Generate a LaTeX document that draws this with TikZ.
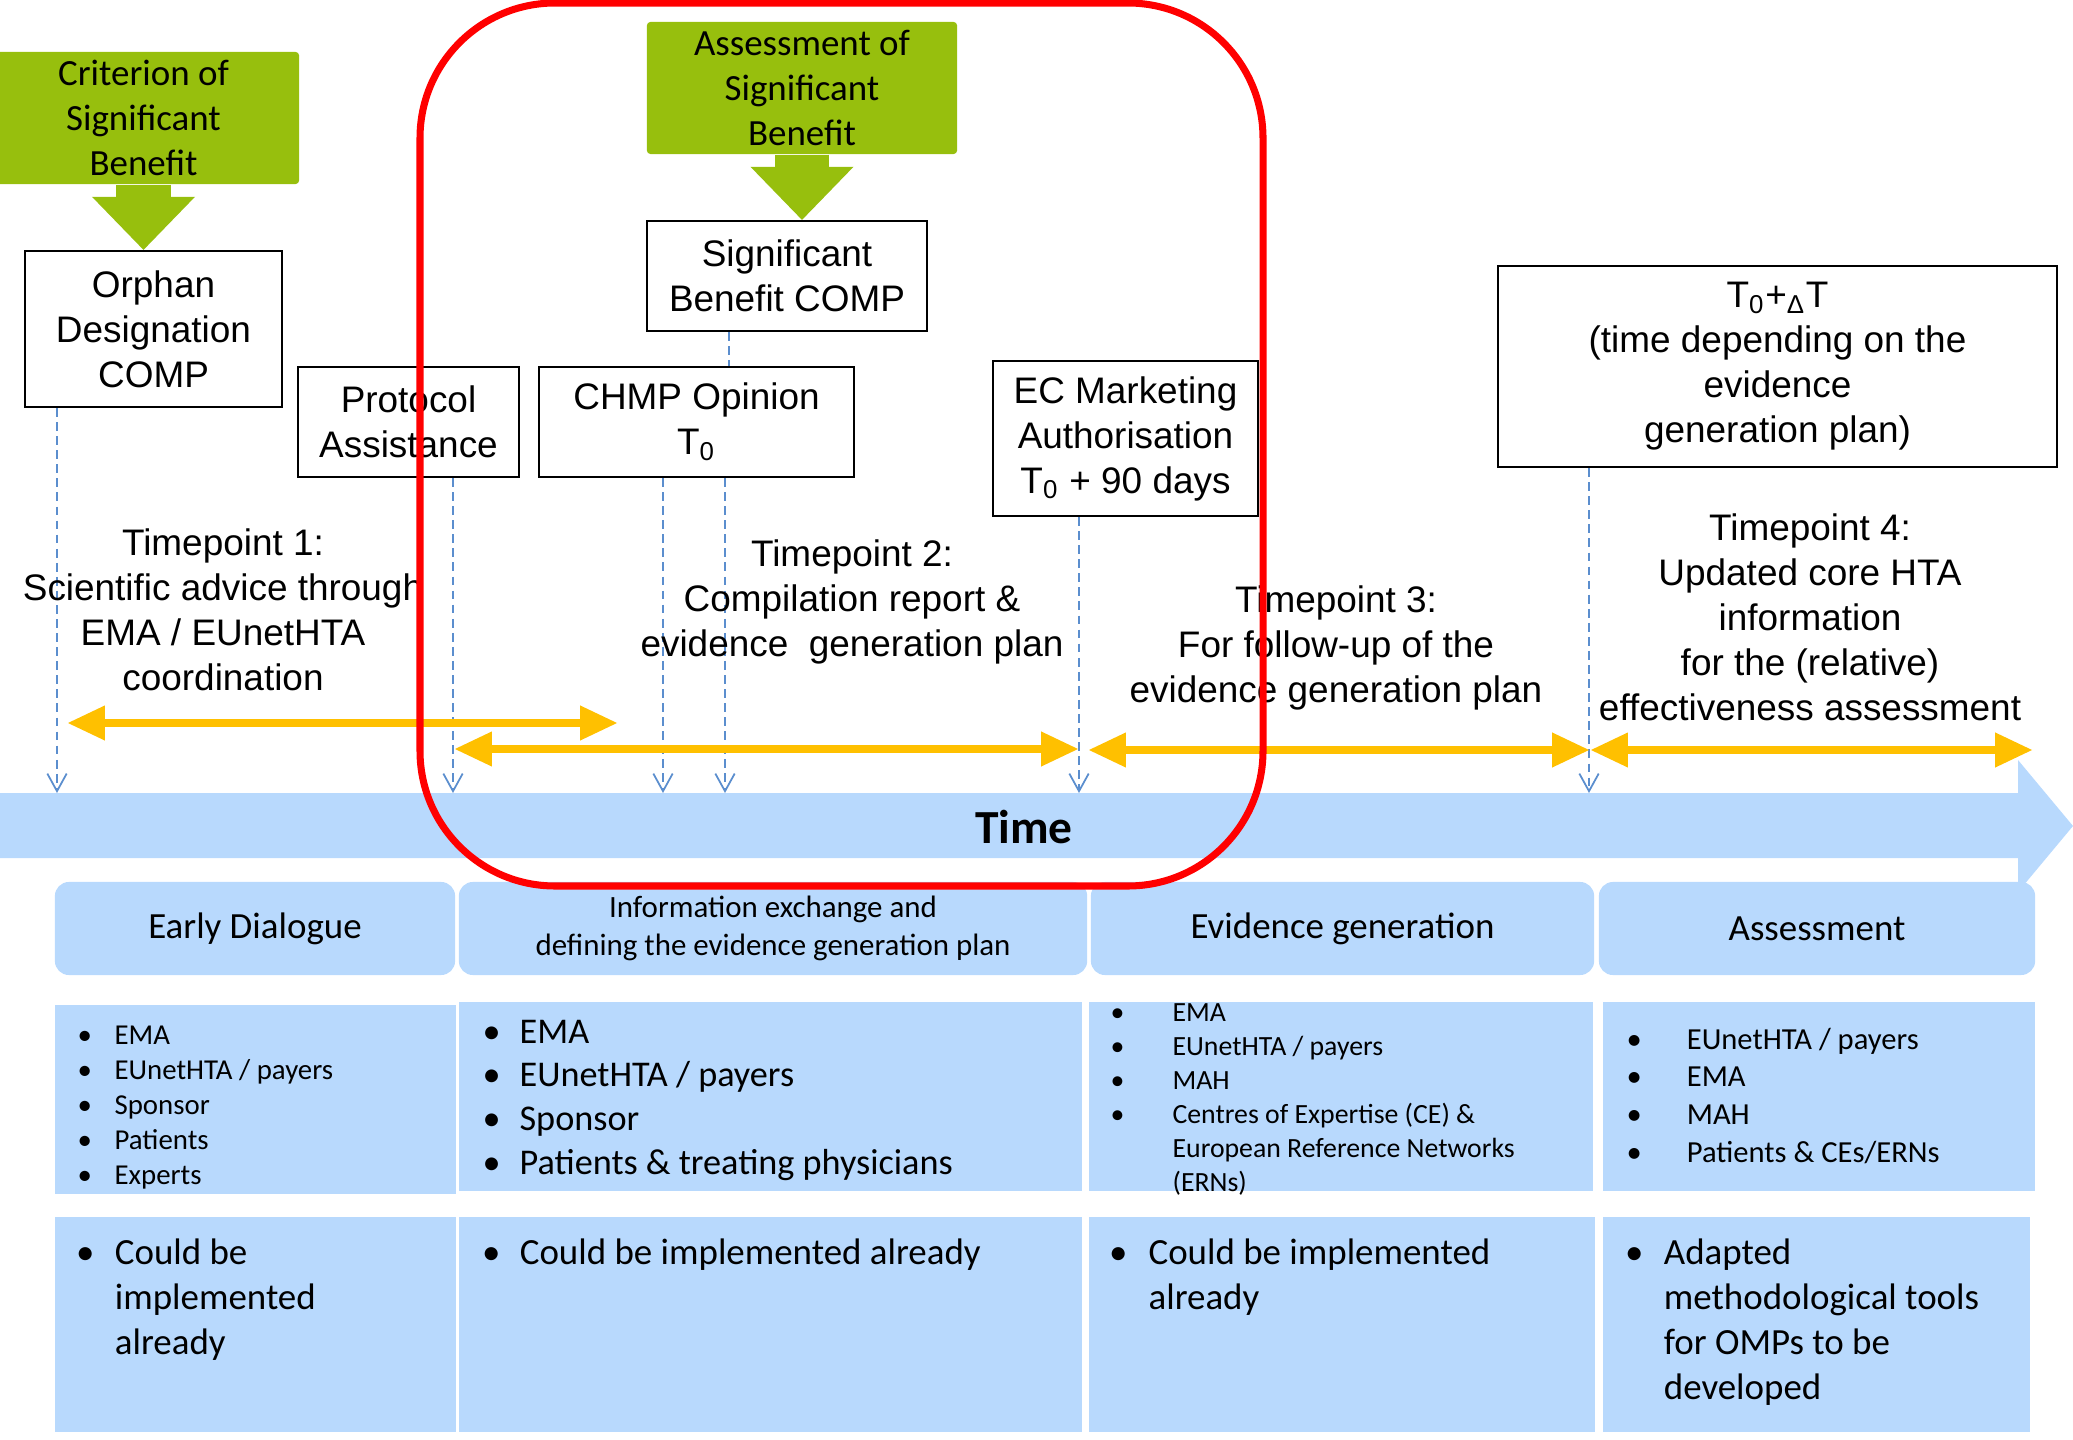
\documentclass[tikz,border=0pt]{standalone}
\usepackage{fontspec}
\setmainfont{Liberation Sans}
\newfontfamily\calibri{Carlito}
\usepackage{tikz}
\usetikzlibrary{arrows.meta}

\definecolor{sbgreen}{RGB}{151,191,13}
\definecolor{spanorange}{RGB}{255,192,0}
\definecolor{timeblue}{RGB}{184,217,253}
\definecolor{tickblue}{RGB}{91,142,206}

\begin{document}
\begin{tikzpicture}[
							x=0.01cm, y=-0.01cm,
							compbox/.style={rectangle, draw=black, fill=white, line width=0.6pt, inner sep=0pt, align=center, font=\fontsize{10.5}{12.8}\selectfont},
							greenbox/.style={rectangle, fill=sbgreen, rounded corners=1pt, inner sep=0pt, align=center, font=\calibri\fontsize{10.5}{12.8}\selectfont},
							greenarrow/.style={draw=sbgreen, line width=15.4pt, -{Triangle[width=29.3pt, length=15.1pt, line width=0pt]}},
							tickline/.style={draw=tickblue, line width=0.5pt, dash pattern=on 2.5pt off 1.5pt, -{Straight Barb[length=5pt, width=5.5pt]}},
							spanarrow/.style={draw=spanorange, line width=2.3pt, {Triangle[width=10pt, length=10.5pt, line width=0pt]}-{Triangle[width=10pt, length=10.5pt, line width=0pt]}},
							phasebox/.style={rectangle, fill=timeblue, rounded corners=4pt, inner sep=0pt, align=center, minimum height=0.93cm, font=\calibri\fontsize{10.5}{12.8}\selectfont},
							panelbox/.style={rectangle, fill=timeblue, inner sep=0pt},
							tptext/.style={align=center, inner sep=0pt, font=\fontsize{10.5}{12.8}\selectfont},
							listtext/.style={anchor=base west, inner sep=0pt}
						]
						\useasboundingbox (0, 0) rectangle (2073, 1440);
						
						% time axis
						\fill[timeblue] (0, 793) -- (2018, 793) -- (2018, 760) -- (2073, 826) -- (2018, 892) -- (2018, 858) -- (0, 858) -- cycle;
						\node[inner sep=0pt, font=\calibri\bfseries\fontsize{13.5}{16}\selectfont] (nodeTime) at (1024, 827) {Time};
						
						\node[phasebox, minimum width=4.00cm] (phaseEarly) at (255, 928.5) {Early Dialogue};
						\node[phasebox, minimum width=6.28cm, font=\calibri\fontsize{8.8}{10.8}\selectfont] (phaseInfo) at (773, 928.5) {Information exchange and\\defining the evidence generation plan};
						\node[phasebox, minimum width=5.03cm] (phaseEvidence) at (1342.5, 928.5) {Evidence generation};
						\node[phasebox, minimum width=4.36cm] (phaseAssess) at (1817, 928.5) {Assessment};
						
						\node[panelbox, minimum width=4.01cm, minimum height=1.89cm] (panelWhoEarly) at (255.5, 1099.5) {};
						\node[panelbox, minimum width=6.23cm, minimum height=1.89cm] (panelWhoInfo) at (770.5, 1096.5) {};
						\node[panelbox, minimum width=5.04cm, minimum height=1.89cm] (panelWhoEvidence) at (1341, 1096.5) {};
						\node[panelbox, minimum width=4.32cm, minimum height=1.89cm] (panelWhoAssess) at (1819, 1096.5) {};
						\node[panelbox, minimum width=4.01cm, minimum height=2.15cm] (panelNowEarly) at (255.5, 1324.5) {};
						\node[panelbox, minimum width=6.23cm, minimum height=2.15cm] (panelNowInfo) at (770.5, 1324.5) {};
						\node[panelbox, minimum width=5.06cm, minimum height=2.15cm] (panelNowEvidence) at (1342, 1324.5) {};
						\node[panelbox, minimum width=4.27cm, minimum height=2.15cm] (panelNowAssess) at (1816.5, 1324.5) {};
						
						\node[listtext, font=\calibri\fontsize{8.2}{10}\selectfont] (listWhoEarly) at (77, 1044) {\begin{tabular}[t]{@{}p{10.5pt}@{}l@{}}
							\textbullet & EMA\\ \textbullet & EUnetHTA / payers\\ \textbullet & Sponsor\\ \textbullet & Patients\\ \textbullet & Experts
						\end{tabular}};
						\node[listtext, font=\calibri\fontsize{10.3}{12.5}\selectfont] (listWhoInfo) at (482, 1043) {\begin{tabular}[t]{@{}p{10.5pt}@{}l@{}}
							\textbullet & EMA\\ \textbullet & EUnetHTA / payers\\ \textbullet & Sponsor\\ \textbullet & Patients \& treating physicians
						\end{tabular}};
						\node[listtext, font=\calibri\fontsize{7.9}{9.7}\selectfont] (listWhoEvidence) at (1110, 1021) {\begin{tabular}[t]{@{}p{17.6pt}@{}l@{}}
							\textbullet & EMA\\ \textbullet & EUnetHTA / payers\\ \textbullet & MAH\\ \textbullet & Centres of Expertise (CE) \&\\ & European Reference Networks\\ & (ERNs)
						\end{tabular}};
						\node[listtext, font=\calibri\fontsize{8.7}{10.8}\selectfont] (listWhoAssess) at (1626, 1049) {\begin{tabular}[t]{@{}p{17.1pt}@{}l@{}}
							\textbullet & EUnetHTA / payers\\ \textbullet & EMA\\ \textbullet & MAH\\ \textbullet & Patients \& CEs/ERNs
						\end{tabular}};
						
						\node[listtext, font=\calibri\fontsize{10.5}{12.8}\selectfont] (listNowEarly) at (75.5, 1264) {\begin{tabular}[t]{@{}p{11pt}@{}l@{}}
							\textbullet & Could be\\ & implemented\\ & already
						\end{tabular}};
						\node[listtext, font=\calibri\fontsize{10.5}{12.8}\selectfont] (listNowInfo) at (481.5, 1264) {\begin{tabular}[t]{@{}p{10.7pt}@{}l@{}}
							\textbullet & Could be implemented already
						\end{tabular}};
						\node[listtext, font=\calibri\fontsize{10.5}{12.8}\selectfont] (listNowEvidence) at (1108.5, 1264) {\begin{tabular}[t]{@{}p{11.2pt}@{}l@{}}
							\textbullet & Could be implemented\\ & already
						\end{tabular}};
						\node[listtext, font=\calibri\fontsize{10.5}{12.8}\selectfont] (listNowAssess) at (1624.5, 1264) {\begin{tabular}[t]{@{}p{11pt}@{}l@{}}
							\textbullet & Adapted\\ & methodological tools\\ & for OMPs to be\\ & developed
						\end{tabular}};
						
						% milestones
						\node[greenbox, minimum width=3.11cm, minimum height=1.32cm] (nodeCrit) at (143.5, 118) {Criterion of\\Significant\\Benefit};
						\node[greenbox, minimum width=3.10cm, minimum height=1.32cm] (nodeAssessSB) at (802, 88) {Assessment of\\Significant\\Benefit};
						
						\node[compbox, minimum width=2.57cm, minimum height=1.56cm] (nodeOrphan) at (153.5, 329) {Orphan\\Designation\\COMP};
						\node[compbox, minimum width=2.21cm, minimum height=1.10cm] (nodeProtocol) at (408.5, 422) {Protocol\\Assistance};
						\node[compbox, minimum width=3.15cm, minimum height=1.10cm] (nodeChmp) at (696.5, 422) {CHMP Opinion\\T\textsubscript{0}};
						\node[compbox, minimum width=2.80cm, minimum height=1.10cm] (nodeSBComp) at (787, 276) {Significant\\Benefit COMP};
						\node[compbox, minimum width=2.65cm, minimum height=1.55cm] (nodeEC) at (1125.5, 438.5) {EC Marketing\\Authorisation\\T\textsubscript{0} + 90 days};
						\node[compbox, minimum width=5.59cm, minimum height=2.01cm] (nodeHTA) at (1777.5, 366.5) {T\textsubscript{0}+\textsubscript{Δ}T\\(time depending on the\\evidence\\generation plan)};
						
						\draw[greenarrow] (nodeCrit.south) to (nodeCrit.south |- nodeOrphan.north);
						\draw[greenarrow] (nodeAssessSB.south) to (nodeAssessSB.south |- nodeSBComp.north);
						
						\coordinate (tickOrphan) at (57, 793);
						\coordinate (tickProtocol) at (453, 793);
						\coordinate (tickChmpA) at (663, 793);
						\coordinate (tickChmpB) at (725, 793);
						\coordinate (tickEC) at (1079, 793);
						\coordinate (tickHTA) at (1589, 793);
						\coordinate (linkSB) at (729, 350);
						
						\draw[tickline] (nodeOrphan.south -| tickOrphan) to (tickOrphan);
						\draw[tickline] (nodeProtocol.south -| tickProtocol) to (tickProtocol);
						\draw[tickline] (nodeChmp.south -| tickChmpA) to (tickChmpA);
						\draw[tickline] (nodeChmp.south -| tickChmpB) to (tickChmpB);
						\draw[tickline] (nodeEC.south -| tickEC) to (tickEC);
						\draw[tickline] (nodeHTA.south -| tickHTA) to (tickHTA);
						\draw[tickline, -] (nodeSBComp.south -| linkSB) to (nodeChmp.north -| linkSB);
						
						% timepoints
						\coordinate (spanOneL) at (68, 723);
						\coordinate (spanOneR) at (617, 723);
						\coordinate (spanTwoL) at (455, 749);
						\coordinate (spanTwoR) at (1078, 749);
						\coordinate (spanThreeL) at (1089, 750);
						\coordinate (spanThreeR) at (1589, 750);
						\coordinate (spanFourL) at (1591, 750);
						\coordinate (spanFourR) at (2032, 750);
						\draw[spanarrow] (spanOneL) to (spanOneR);
						\draw[spanarrow] (spanTwoL) to (spanTwoR);
						\draw[spanarrow] (spanThreeL) to (spanThreeR);
						\draw[spanarrow] (spanFourL) to (spanFourR);
						
						\node[tptext] (nodeTP1) at (223, 609.5) {Timepoint 1:\\Scientific advice through\\EMA / EUnetHTA\\coordination};
						\node[tptext] (nodeTP2) at (852, 602) {Timepoint 2:\\Compilation report \&\\evidence\ \ generation plan};
						\node[tptext] (nodeTP3) at (1336, 647.5) {Timepoint 3:\\For follow-up of the\\evidence generation plan};
						\node[tptext] (nodeTP4) at (1810, 617) {Timepoint 4:\\Updated core HTA\\information\\for the (relative)\\effectiveness assessment};
						
						\draw[red, line width=2pt, rounded corners=1.35cm] (420, 3) rectangle (1263, 886);
					\end{tikzpicture}
\end{document}
